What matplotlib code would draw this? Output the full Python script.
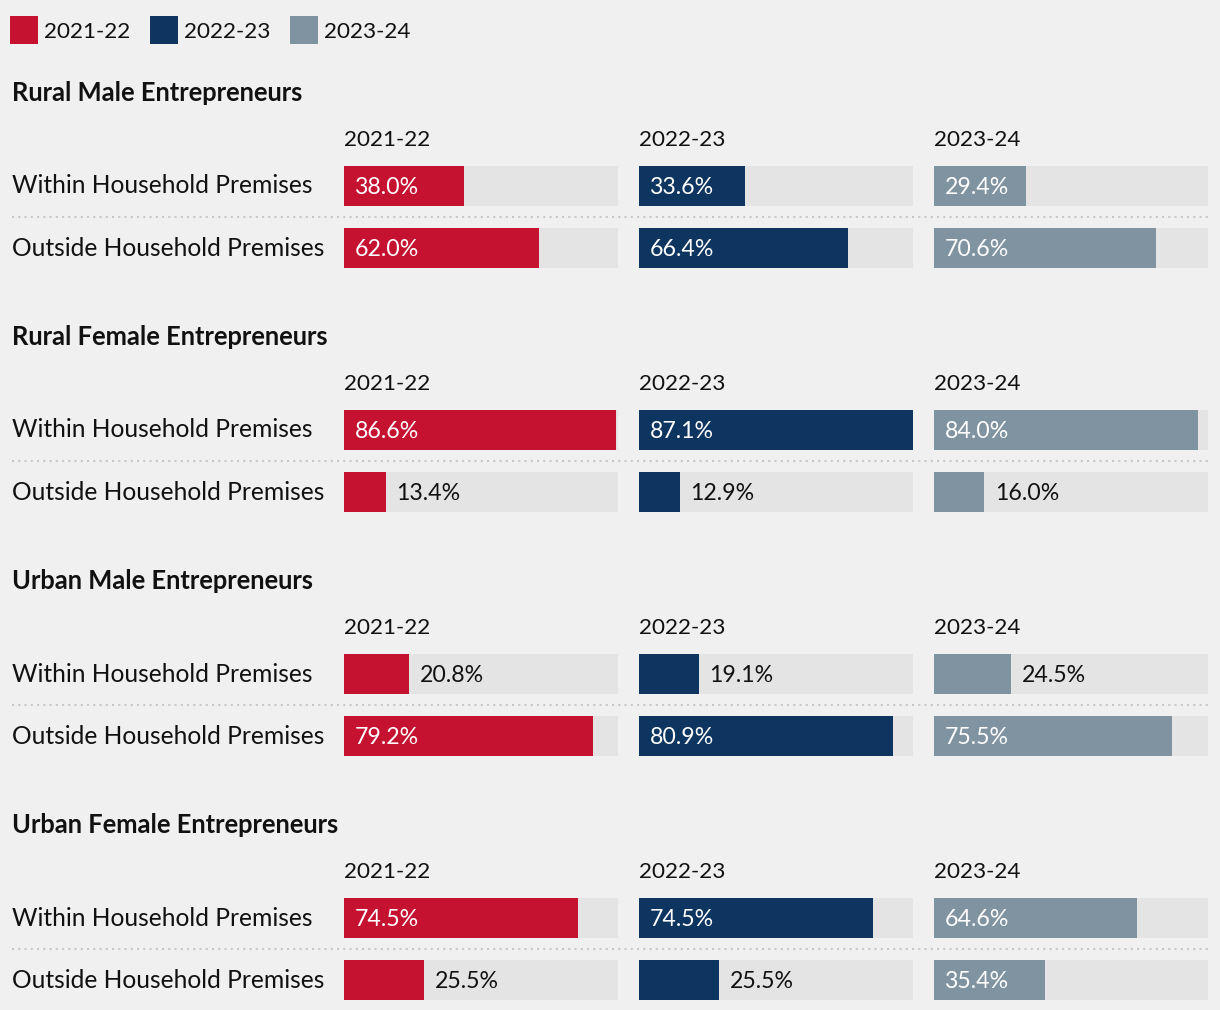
import matplotlib.pyplot as plt
from matplotlib.patches import Rectangle
from matplotlib.lines import Line2D

years = ['2021-22', '2022-23', '2023-24']
groups = ['Rural Male Entrepreneurs', 'Rural Female Entrepreneurs',
          'Urban Male Entrepreneurs', 'Urban Female Entrepreneurs']
places = ['Within Household Premises', 'Outside Household Premises']
within = [[38.0, 33.6, 29.4], [86.6, 87.1, 84.0], [20.8, 19.1, 24.5], [74.5, 74.5, 64.6]]
outside = [[62.0, 66.4, 70.6], [13.4, 12.9, 16.0], [79.2, 80.9, 75.5], [25.5, 25.5, 35.4]]

colors = ['#c41230', '#0d3560', '#7f93a1']
track = '#e4e4e4'
bg = '#f0f0f0'
ink = '#111111'

plt.rcParams['font.family'] = ['Lato', 'DejaVu Sans']

W, H = 1220, 1010
fig = plt.figure(figsize=(W / 100, H / 100), dpi=100, facecolor=bg)


def fx(x):
    return x / W


def fy(y):
    return 1 - y / H


fs = 16.2        # numbers / years
fs_row = 17.7    # row labels
fs_title = 18.4  # bold group titles
xmax = max(max(max(r) for r in within), max(max(r) for r in outside))
col_x = [344, 639, 934]
col_w = 274

# legend
for i, (yr, c) in enumerate(zip(years, colors)):
    x0 = 10 + 140 * i
    fig.add_artist(Rectangle((fx(x0), fy(44)), 28 / W, 28 / H,
                             transform=fig.transFigure, color=c, lw=0))
    fig.text(fx(x0 + 34), fy(30), yr, fontsize=fs, va='center_baseline', color=ink)

for g, name in enumerate(groups):
    base = 244 * g
    fig.text(fx(12), fy(91 + base), name, fontsize=fs_title, weight='bold',
             va='center_baseline', color=ink)
    for r, place in enumerate(places):
        fig.text(fx(12), fy(184 + 62 * r + base), place, fontsize=fs_row,
                 va='center_baseline', color=ink)
    fig.add_artist(Line2D([fx(12), fx(1208)], [fy(217 + base)] * 2,
                          transform=fig.transFigure, color='#c8c8c8',
                          lw=1.5, ls=(0, (1, 2))))
    for c, yr in enumerate(years):
        x0 = col_x[c]
        fig.text(fx(x0), fy(138 + base), yr, fontsize=fs, va='center_baseline',
                 color=ink)
        ax = fig.add_axes([fx(x0), fy(268 + base), col_w / W, 102 / H])
        ax.set_xlim(0, xmax)
        ax.set_ylim(1 + 20 / 62, -20 / 62)
        ax.axis('off')
        vals = [within[g][c], outside[g][c]]
        h = 40 / 62
        ax.barh([0, 1], [xmax, xmax], height=h, color=track, lw=0)
        ax.barh([0, 1], vals, height=h, color=colors[c], lw=0)
        for r, v in enumerate(vals):
            if v > 27:
                ax.annotate(f'{v:.1f}%', (0, r), xytext=(7.5, 0),
                            textcoords='offset points', va='center_baseline',
                            fontsize=fs + 0.5, color='white')
            else:
                ax.annotate(f'{v:.1f}%', (v, r), xytext=(7.5, 0),
                            textcoords='offset points', va='center_baseline',
                            fontsize=fs + 0.5, color=ink)

fig.savefig('out.png', dpi=100, facecolor=bg)
